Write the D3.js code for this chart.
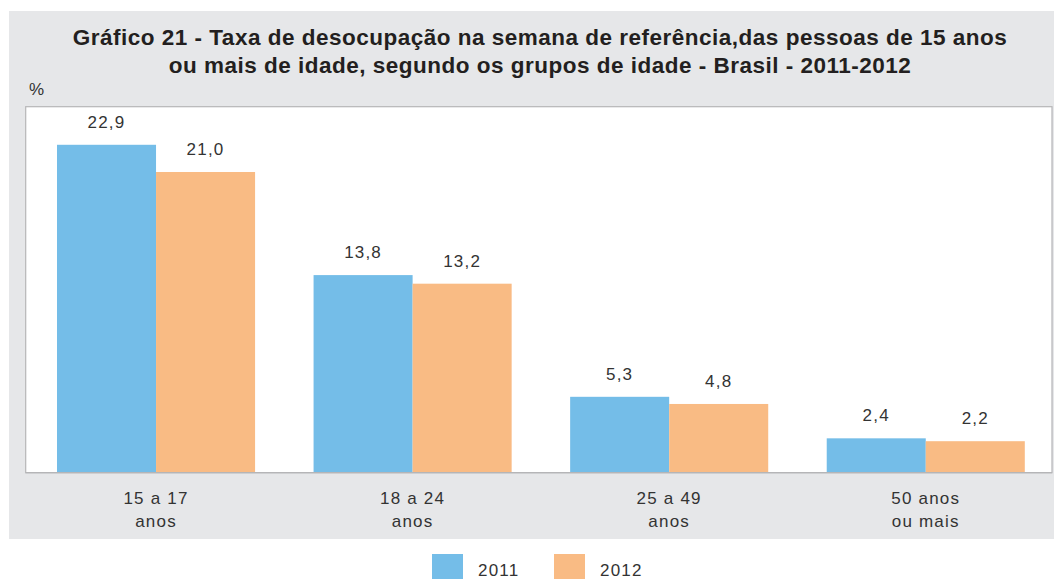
<!DOCTYPE html>
<html>
<head>
<meta charset="utf-8">
<script src="https://cdn.jsdelivr.net/npm/d3@7"></script>
<style>
  body { margin: 0; background: #fff; }
  text { font-family: "Liberation Sans", Arial, sans-serif; fill: #231f20; }
</style>
</head>
<body>
<div id="chart"></div>
<script>
// data
var categories = [["15 a 17", "anos"], ["18 a 24", "anos"], ["25 a 49", "anos"], ["50 anos", "ou mais"]];
var years = ["2011", "2012"];
var values2011 = [22.9, 13.8, 5.3, 2.4];
var values2012 = [21.0, 13.2, 4.8, 2.2];
var colors = ["#74bde8", "#f9bb84"];

var svgWidth = 1054, svgHeight = 579;
var plot = { left: 25.7, right: 1052, top: 106.7, bottom: 472.7 };

var svg = d3.select("#chart").append("svg")
    .attr("width", svgWidth)
    .attr("height", svgHeight);

// grey panel
svg.append("rect")
    .attr("x", 9).attr("y", 11)
    .attr("width", svgWidth - 9).attr("height", 528)
    .attr("fill", "#e6e7e9");

// title
var title = svg.append("text")
    .attr("text-anchor", "middle")
    .style("font-weight", "bold")
    .style("font-size", "22.5px")
    .style("letter-spacing", "0.5px");
title.append("tspan").attr("x", 540).attr("y", 45)
    .text("Gráfico 21 - Taxa de desocupação na semana de referência,das pessoas de 15 anos");
title.append("tspan").attr("x", 540).attr("y", 73)
    .text("ou mais de idade, segundo os grupos de idade - Brasil - 2011-2012");

svg.append("text")
    .attr("x", 29).attr("y", 95)
    .style("font-size", "17px")
    .style("fill", "#333")
    .text("%");

// plot area
svg.append("rect")
    .attr("x", plot.left).attr("y", plot.top)
    .attr("width", plot.right - plot.left)
    .attr("height", plot.bottom - plot.top)
    .attr("fill", "#fff")
    .attr("stroke", "#b5b5b7")
    .attr("stroke-width", 1.2);

var x0 = d3.scaleBand()
    .domain(d3.range(categories.length))
    .range([plot.left, plot.right])
    .paddingInner(0.228)
    .paddingOuter(0.114)
    .align(0.535);

var x1 = d3.scaleBand()
    .domain(years)
    .range([0, x0.bandwidth()]);

var y = d3.scaleLinear()
    .domain([0, 25.56])
    .range([plot.bottom, plot.top]);

var rows = [];
categories.forEach(function(c, i) {
    rows.push({ i: i, year: "2011", v: values2011[i] });
    rows.push({ i: i, year: "2012", v: values2012[i] });
});

var colorScale = d3.scaleOrdinal().domain(years).range(colors);

svg.append("g").selectAll("rect")
    .data(rows)
    .enter()
    .append("rect")
    .attr("x", d => x0(d.i) + x1(d.year))
    .attr("y", d => y(d.v))
    .attr("width", x1.bandwidth())
    .attr("height", d => plot.bottom - y(d.v))
    .attr("fill", d => colorScale(d.year));

svg.append("g").selectAll("text")
    .data(rows)
    .enter()
    .append("text")
    .attr("x", d => x0(d.i) + x1(d.year) + x1.bandwidth() / 2)
    .attr("y", d => y(d.v) - 17)
    .attr("text-anchor", "middle")
    .style("font-size", "17px")
    .style("letter-spacing", "1.2px")
    .style("fill", "#333")
    .text(d => d3.format(".1f")(d.v).replace(".", ","));

// redraw baseline over bars
svg.append("line")
    .attr("x1", plot.left).attr("x2", plot.right)
    .attr("y1", plot.bottom).attr("y2", plot.bottom)
    .attr("stroke", "#b5b5b7")
    .attr("stroke-width", 1.2);

// category labels
var catLabels = svg.append("g").selectAll("text")
    .data(categories)
    .enter()
    .append("text")
    .attr("text-anchor", "middle")
    .style("font-size", "17px")
    .style("letter-spacing", "1.2px")
    .style("fill", "#333");
catLabels.append("tspan")
    .attr("x", (d, i) => x0(i) + x0.bandwidth() / 2)
    .attr("y", 504)
    .text(d => d[0]);
catLabels.append("tspan")
    .attr("x", (d, i) => x0(i) + x0.bandwidth() / 2)
    .attr("y", 527)
    .text(d => d[1]);

// legend
var legend = svg.append("g").selectAll("g")
    .data(years)
    .enter()
    .append("g")
    .attr("transform", (d, i) => `translate(${432 + i * 122},554)`);
legend.append("rect")
    .attr("width", 31).attr("height", 25)
    .attr("fill", d => colorScale(d));
legend.append("text")
    .attr("x", 46).attr("y", 22)
    .style("font-size", "17px")
    .style("letter-spacing", "1.2px")
    .style("fill", "#333")
    .text(d => d);
</script>
</body>
</html>
